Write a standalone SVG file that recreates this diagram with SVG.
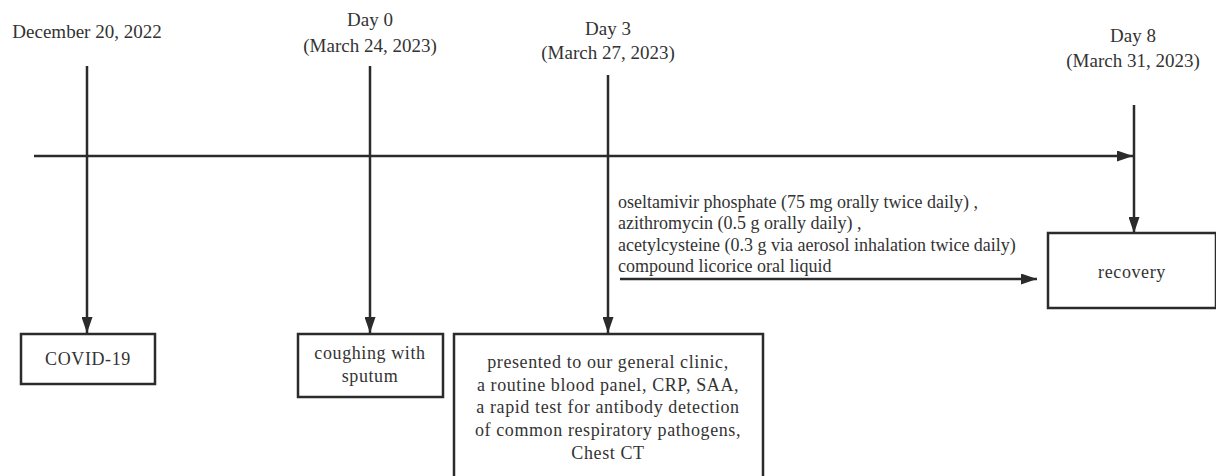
<svg xmlns="http://www.w3.org/2000/svg" width="1216" height="476" viewBox="0 0 1216 476">
<style>
.lbl{font-size:19px;text-anchor:middle}
.box{fill:#fff;stroke:#2b2b2b;stroke-width:2.5}
.ln{stroke:#2b2b2b;stroke-width:2.5;fill:none}
.bt{font-size:18px;text-anchor:middle;letter-spacing:0.6px}
.tr{font-size:18px}
</style>
<defs>
<marker id="ahd" markerWidth="16" markerHeight="11" refX="16" refY="5.5" orient="auto" markerUnits="userSpaceOnUse" viewBox="0 0 16 11">
<path d="M0,0 L16,5.5 L0,11 Z" fill="#2b2b2b"/>
</marker>
</defs>
<g font-family="'Liberation Serif', 'Times New Roman', 'DejaVu Serif', serif" fill="#333">
<g id="labels">
<text class="lbl" x="87" y="38">December 20, 2022</text>
<text class="lbl" x="370" y="26">Day 0</text>
<text class="lbl" x="370" y="52">(March 24, 2023)</text>
<text class="lbl" x="608" y="35">Day 3</text>
<text class="lbl" x="608" y="59">(March 27, 2023)</text>
<text class="lbl" x="1133" y="42">Day 8</text>
<text class="lbl" x="1133" y="67">(March 31, 2023)</text>
</g>
<g id="connectors">
<line class="ln" x1="34" y1="156" x2="1133" y2="156" marker-end="url(#ahd)"/>
<line class="ln" x1="87" y1="66" x2="87" y2="333" marker-end="url(#ahd)"/>
<line class="ln" x1="370" y1="66" x2="370" y2="333" marker-end="url(#ahd)"/>
<line class="ln" x1="608" y1="75" x2="608" y2="333" marker-end="url(#ahd)"/>
<line class="ln" x1="1134" y1="105" x2="1134" y2="233" marker-end="url(#ahd)"/>
<line class="ln" x1="620" y1="279" x2="1037" y2="279" marker-end="url(#ahd)"/>
</g>
<g id="treatment">
<text class="tr" x="618" y="208">oseltamivir phosphate (75 mg orally twice daily) ,</text>
<text class="tr" x="618" y="229">azithromycin (0.5 g orally daily) ,</text>
<text class="tr" x="618" y="251">acetylcysteine (0.3 g via aerosol inhalation twice daily)</text>
<text class="tr" x="618" y="272">compound licorice oral liquid</text>
</g>
<g id="covid">
<rect class="box" x="21" y="334" width="134" height="50"/>
<text class="bt" x="88" y="365">COVID-19</text>
</g>
<g id="coughing">
<rect class="box" x="298" y="334" width="145" height="63"/>
<text class="bt" x="370" y="359">coughing with</text>
<text class="bt" x="370" y="382">sputum</text>
</g>
<g id="clinic">
<rect class="box" x="454" y="334" width="309" height="146"/>
<text class="bt" x="608" y="368">presented to our general clinic,</text>
<text class="bt" x="608" y="391">a routine blood panel, CRP, SAA,</text>
<text class="bt" x="608" y="413">a rapid test for antibody detection</text>
<text class="bt" x="608" y="436">of common respiratory pathogens,</text>
<text class="bt" x="608" y="459">Chest CT</text>
</g>
<g id="recovery">
<rect class="box" x="1048" y="233" width="168" height="75"/>
<text class="bt" x="1132" y="278">recovery</text>
</g>
</g>
</svg>
